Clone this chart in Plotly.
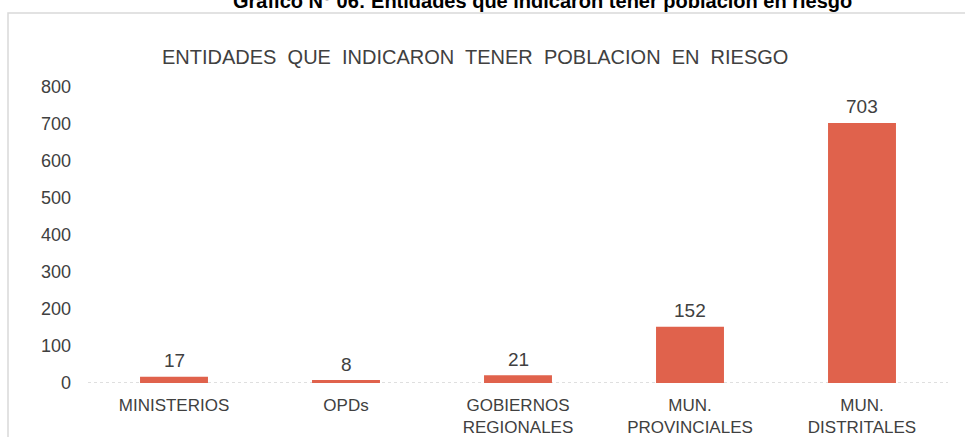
import plotly.graph_objects as go

categories = ["MINISTERIOS", "OPDs", "GOBIERNOS<br>REGIONALES", "MUN.<br>PROVINCIALES", "MUN.<br>DISTRITALES"]
values = [17, 8, 21, 152, 703]
y_ticks = [0, 100, 200, 300, 400, 500, 600, 700, 800]

W, H = 965, 437
ml, mr, mt, mb = 88, 17, 87, 54
ph = H - mt - mb
pw = W - ml - mr
FONT = "Liberation Sans, Arial, sans-serif"

fig = go.Figure(go.Bar(
    x=categories, y=values,
    marker=dict(color="#E0624C", line=dict(width=0)),
    hoverinfo="x+y",
))

annotations = [
    dict(x=c, y=v, xref="x", yref="y", text=str(v), showarrow=False,
         yanchor="middle", yshift=16,
         font=dict(family=FONT, size=19, color="#404040"))
    for c, v in zip(categories, values)
]
annotations += [
    dict(text="ENTIDADES  QUE  INDICARON  TENER  POBLACION  EN  RIESGO",
         xref="paper", yref="paper", x=(475 - ml) / pw, y=1 + (mt - 57) / ph,
         xanchor="center", yanchor="middle", showarrow=False,
         font=dict(family=FONT, size=20, color="#404040")),
    dict(text="<b>Gráfico N° 06: Entidades que indicaron tener población en riesgo</b>",
         xref="paper", yref="paper", x=(542 - ml) / pw, y=1 + (mt - 1) / ph,
         xanchor="center", yanchor="middle", showarrow=False,
         font=dict(family=FONT, size=20, color="#000000")),
]

fig.update_layout(
    width=W, height=H,
    margin=dict(l=ml, r=mr, t=mt, b=mb, autoexpand=False),
    paper_bgcolor="white", plot_bgcolor="white",
    bargap=0.605,
    showlegend=False,
    font=dict(family=FONT, size=17, color="#404040"),
    xaxis=dict(showline=False, showgrid=False, ticks="", automargin=False,
               ticklabelstandoff=10, tickfont=dict(size=17, color="#404040")),
    yaxis=dict(range=[0, 800], tickvals=y_ticks, showgrid=False, zeroline=False, showline=False,
               ticks="", automargin=False, ticklabelstandoff=16,
               tickfont=dict(size=18, color="#404040")),
    shapes=[
        dict(type="line", xref="paper", yref="y", x0=0, x1=1, y0=0, y1=0,
             line=dict(color="#BFBFBF", width=1, dash="dot"), layer="below"),
        dict(type="rect", xref="paper", yref="paper",
             x0=(8 - ml) / pw, x1=1.2,
             y0=-0.5, y1=1 + (mt - 13) / ph,
             line=dict(color="#D9D9D9", width=1.5), fillcolor="rgba(0,0,0,0)", layer="below"),
    ],
    annotations=annotations,
)

fig.write_html("out.html", config={"displayModeBar": False},
               post_script="document.body.style.margin='0';document.body.style.overflow='hidden';")
